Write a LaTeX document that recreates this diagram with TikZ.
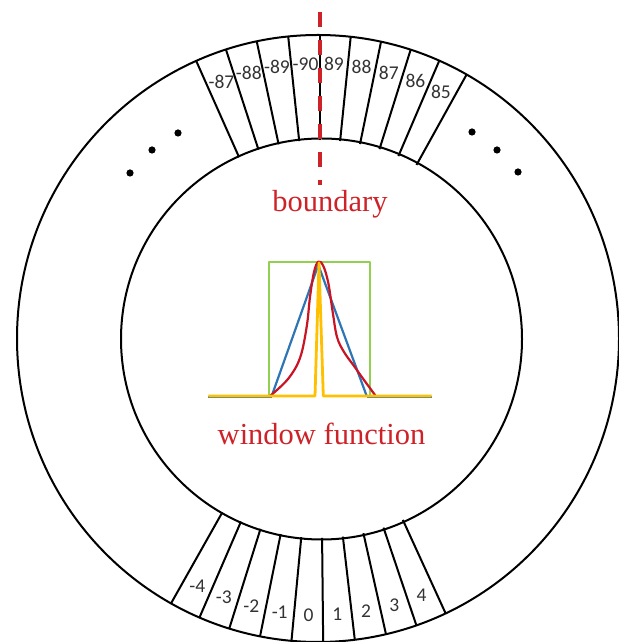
\documentclass[tikz,border=0pt]{standalone}
\usepackage{fontspec}
\setmainfont{Liberation Serif}
\newfontfamily\numfont{Carlito}
\usetikzlibrary{calc}
\definecolor{bred}{RGB}{205,35,40}
\definecolor{wgreen}{RGB}{146,208,80}
\definecolor{wblue}{RGB}{46,117,182}
\definecolor{wyellow}{RGB}{255,192,0}
\definecolor{wred}{RGB}{200,20,35}
\begin{document}
\begin{tikzpicture}[x=1pt,y=1pt,
  ring/.style={line width=2pt, black},
  numlbl/.style={font=\numfont\fontsize{19.5}{20}\selectfont, inner sep=0pt, text=black!80},
  bigred/.style={font=\fontsize{30.5}{32}\selectfont, text=bred, anchor=base, inner sep=0pt},
  curve/.style={line width=2.2pt, line join=round, line cap=round},
  dotmark/.style={fill=black, draw=none}]
\useasboundingbox (0,0) rectangle (618,642);
\coordinate (C) at (320,303);
% rings
\draw[ring] (318,303.5) ellipse [x radius=301, y radius=303.5];
\draw[ring] (321.5,303) circle [radius=200.5];
% sector lines
\begin{scope}
  \clip (318,303.5) ellipse [x radius=301, y radius=303.5];
  \foreach \a in {114,108,102,96,90,84.2,78.4,72.6,66.8,61}
    \draw[ring] ($(C)+(\a:199)$) -- ($(C)+(\a:330)$);
  \foreach \k in {0,...,9}
    \draw[ring] ($(C)+({240.6+6*\k}:199)$) -- ($(C)+({240.6+6*\k}:330)$);
\end{scope}
% labels
\foreach \t/\a [count=\i] in {-87/111,-88/105,-89/99,-90/93,89/87.1,88/81.3,87/75.5,86/69.7,85/63.9}
  \node[numlbl] (top\i) at ($(C)+(\a:275)$) {\t};
\foreach \t [count=\i] in {-4,-3,-2,-1,0,1,2,3,4}
  \node[numlbl] (bot\i) at ($(C)+({243.6+6*(\i-1)}:276)$) {\t};
% dots
\foreach \p [count=\i] in {(178,509),(152,492),(130,469),(472,510),(497,492),(518,470)}
  \fill[dotmark] \p circle [radius=3.6];
% boundary line
\coordinate (btop) at (320,630);
\coordinate (bbot) at (320,457);
\draw[bred, line width=3.5pt, dash pattern=on 15pt off 13pt] (btop) -- (bbot);
\node[bigred] (boundary) at (330,430) {boundary};
% window functions
\draw[curve, wgreen, line width=2pt, line cap=butt] (269,246) -- (269,380.3) -- (370,380.3) -- (370,246);
\draw[curve, wblue, line cap=butt] (208,244.6) -- (272,244.6);
\draw[curve, wblue, line cap=butt] (367,244.6) -- (432,244.6);
\draw[curve, wblue] (271.7,246) -- (318.3,377) -- (366.7,246);
\draw[curve, wred] plot[smooth, tension=0.6] coordinates {(270,246) (288,263) (300,284) (306.7,315.3) (310,345) (314,370) (318.3,380.3) (323.3,376) (328.3,359) (332.7,330) (337,305) (344,290) (354,276) (364,262) (375,247)};
\draw[curve, wyellow, line width=2.8pt, line cap=butt] (208.3,246) -- (315,246) -- (319,379.3) -- (323.3,246) -- (431.7,246);
\node[bigred] (wf) at (321.5,197) {window function};
\end{tikzpicture}
\end{document}
